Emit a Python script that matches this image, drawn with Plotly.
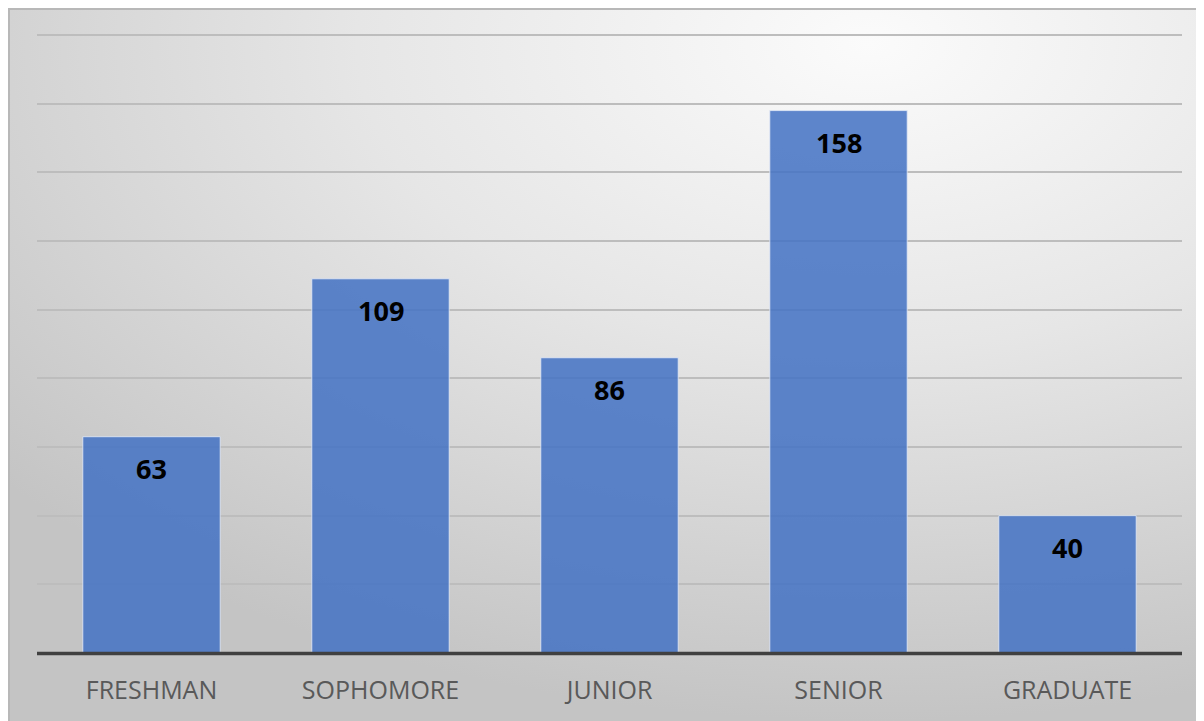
import base64
import plotly.graph_objects as go

categories = ["FRESHMAN", "SOPHOMORE", "JUNIOR", "SENIOR", "GRADUATE"]
values = [63, 109, 86, 158, 40]

# page has an 8px body margin; figure coords = page coords - 8
W, H = 1196, 713
L, R, T, B = 29, 1174, 25, 645  # plot area in figure px
YMAX = 180.6

def px_x(px):
    return (px - L) / (R - L)

def px_y(py):
    return (B - py) / (B - T)

svg = f'''<svg xmlns="http://www.w3.org/2000/svg" width="{W}" height="{H}" viewBox="0 0 {W} {H}" preserveAspectRatio="none">
<defs><radialGradient id="g" cx="0.72" cy="0.05" r="0.95" gradientUnits="objectBoundingBox">
<stop offset="0" stop-color="#fbfbfb"/><stop offset="0.45" stop-color="#e6e6e6"/><stop offset="1" stop-color="#c4c4c4"/>
</radialGradient></defs>
<rect x="0" y="0" width="{W}" height="{H}" fill="url(#g)"/>
</svg>'''
src = "data:image/svg+xml;base64," + base64.b64encode(svg.encode()).decode()

fig = go.Figure()
fig.add_trace(go.Bar(
    x=categories, y=values,
    marker=dict(color="rgba(68,114,196,0.86)", line=dict(color="rgba(230,236,248,0.8)", width=1)),
    hoverinfo="skip",
))

for c, v in zip(categories, values):
    fig.add_annotation(x=c, y=v, text=f"<b>{v}</b>", showarrow=False, yanchor="middle",
                       yshift=-32, font=dict(family="Open Sans, Liberation Sans, sans-serif", size=27, color="#000000"))

fig.add_layout_image(dict(source=src, xref="paper", yref="paper", x=px_x(0), y=px_y(0),
                          sizex=W / (R - L), sizey=H / (B - T), xanchor="left", yanchor="top",
                          sizing="stretch", layer="below"))

# outer border lines (top and left)
fig.add_shape(type="line", xref="paper", yref="paper", x0=px_x(0), x1=px_x(W), y0=px_y(1), y1=px_y(1),
              line=dict(color="#b8b8b8", width=2))
fig.add_shape(type="line", xref="paper", yref="paper", x0=px_x(1), x1=px_x(1), y0=px_y(0), y1=px_y(H),
              line=dict(color="#b8b8b8", width=2))
# baseline (paper coords so it is not clipped)
fig.add_shape(type="line", xref="paper", yref="paper", x0=0, x1=1, y0=px_y(B + 0.5), y1=px_y(B + 0.5),
              line=dict(color="#404040", width=3.5))

fig.update_layout(
    width=W, height=H,
    margin=dict(l=L, r=W - R, t=T, b=H - B),
    paper_bgcolor="#ffffff", plot_bgcolor="rgba(0,0,0,0)",
    bargap=0.4, showlegend=False,
    xaxis=dict(showgrid=False, zeroline=False, showline=False, ticks="outside", ticklen=15,
               tickcolor="rgba(0,0,0,0)",
               tickfont=dict(family="Open Sans, Liberation Sans, sans-serif", size=25, color="#595959")),
    yaxis=dict(range=[0, YMAX], dtick=20, showticklabels=False, showgrid=True,
               gridcolor="#bdbdbd", gridwidth=1.5, zeroline=False, showline=False),
)

fig.write_html("out.html")
